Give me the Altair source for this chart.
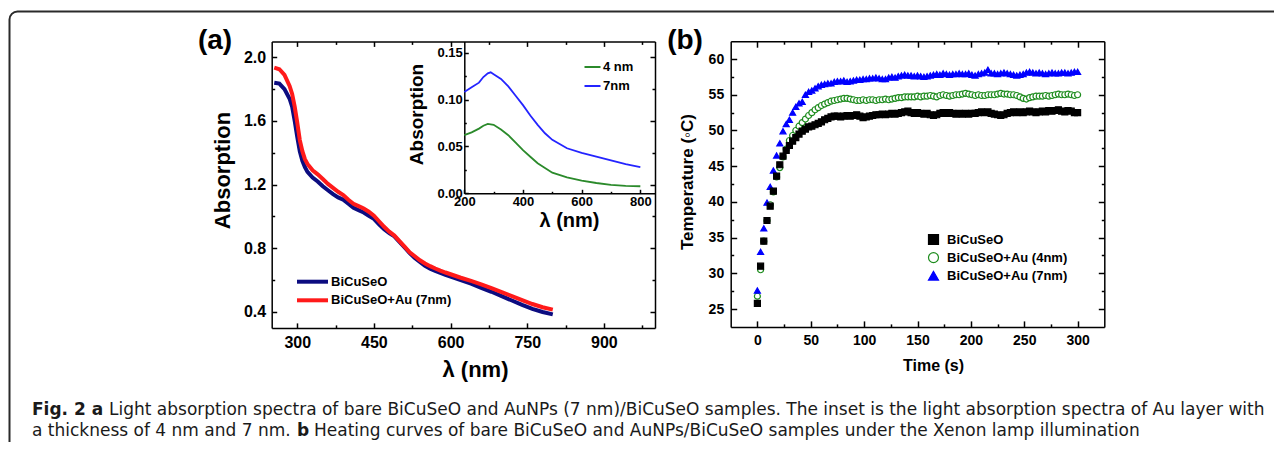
import altair as alt
import pandas as pd

W, H = 1266, 434
FONT = "Liberation Sans"
CAP_FONT = "DejaVu Sans"

# ---------------- data ----------------
# (a) main absorption spectra
wl_a = [255, 265, 275, 285, 290, 295, 300, 305, 310, 315,
        320, 330, 340, 350, 360, 370, 380, 390, 400, 410,
        420, 430, 440, 450, 460, 470, 480, 490, 500, 510,
        520, 530, 540, 550, 560, 570, 580, 590, 600, 620,
        640, 660, 680, 700, 720, 740, 760, 780, 800]
abs_bicuseo = [1.84, 1.835, 1.80, 1.74, 1.69, 1.60, 1.50, 1.41, 1.35, 1.31,
               1.28, 1.245, 1.22, 1.19, 1.165, 1.14, 1.12, 1.105, 1.08, 1.055,
               1.04, 1.025, 1.005, 0.985, 0.95, 0.92, 0.895, 0.875, 0.84, 0.805,
               0.77, 0.74, 0.715, 0.69, 0.672, 0.658, 0.645, 0.634, 0.623, 0.60,
               0.578, 0.552, 0.527, 0.50, 0.472, 0.445, 0.42, 0.40, 0.385]
abs_bicuseo_au7 = [1.935, 1.925, 1.89, 1.82, 1.77, 1.69, 1.59, 1.48, 1.41, 1.36,
                   1.33, 1.29, 1.265, 1.235, 1.205, 1.18, 1.155, 1.135, 1.105, 1.08,
                   1.065, 1.05, 1.03, 1.005, 0.97, 0.935, 0.905, 0.88, 0.845, 0.81,
                   0.775, 0.75, 0.725, 0.705, 0.688, 0.673, 0.66, 0.648, 0.637, 0.615,
                   0.595, 0.573, 0.55, 0.525, 0.50, 0.475, 0.45, 0.43, 0.415]
series_a = ["BiCuSeO", "BiCuSeO+Au (7nm)"]

# (a) inset: Au layers
wl_in = [200, 225, 250, 265, 280, 290, 300, 325, 350, 375, 400,
         425, 450, 475, 500, 550, 600, 650, 700, 750, 800]
abs_4nm = [0.062, 0.065, 0.069, 0.072, 0.074, 0.0735, 0.073, 0.068, 0.062, 0.054, 0.046,
           0.039, 0.032, 0.027, 0.022, 0.017, 0.0135, 0.011, 0.009, 0.008, 0.0075]
abs_7nm = [0.108, 0.113, 0.118, 0.124, 0.128, 0.129, 0.127, 0.122, 0.114, 0.104, 0.094,
           0.083, 0.073, 0.064, 0.057, 0.048, 0.043, 0.039, 0.035, 0.031, 0.028]
series_in = ["4 nm", "7nm"]

# (b) heating curves
time_s = list(range(0, 301, 3))
temp_bicuseo = [25.8, 31.0, 34.5, 37.4, 39.4, 41.5, 43.6, 45.2, 46.4, 47.2,
                47.9, 48.5, 49.0, 49.5, 49.9, 50.2, 50.5, 50.6, 50.8, 51.0,
                51.2, 51.5, 51.7, 51.9, 52.0, 52.0, 51.9, 52.0, 52.1, 52.0,
                52.1, 52.2, 52.0, 51.8, 51.9, 52.0, 52.1, 52.2, 52.2, 52.3,
                52.2, 52.3, 52.4, 52.3, 52.4, 52.5, 52.6, 52.7, 52.5, 52.4,
                52.5, 52.4, 52.3, 52.4, 52.2, 52.1, 52.2, 52.4, 52.5, 52.4,
                52.5, 52.4, 52.3, 52.4, 52.3, 52.4, 52.3, 52.4, 52.4, 52.5,
                52.6, 52.5, 52.6, 52.4, 52.3, 52.2, 52.1, 52.2, 52.4, 52.5,
                52.6, 52.5, 52.6, 52.5, 52.6, 52.7, 52.6, 52.5, 52.6, 52.7,
                52.6, 52.8, 52.7, 52.8, 52.9, 52.7, 52.6, 52.8, 52.7, 52.5,
                52.5]
temp_au4 = [26.8, 30.5, 34.5, 37.4, 39.6, 41.4, 43.5, 44.8, 46.3, 47.4,
            48.6, 49.3, 50.0, 50.6, 51.1, 51.6, 52.1, 52.5, 52.9, 53.2,
            53.5, 53.7, 53.9, 54.1, 54.2, 54.3, 54.4, 54.5, 54.5, 54.4,
            54.3, 54.2, 54.2, 54.3, 54.2, 54.3, 54.3, 54.2, 54.3, 54.3,
            54.4, 54.3, 54.4, 54.5, 54.6, 54.6, 54.7, 54.7, 54.7, 54.7,
            54.8, 54.7, 54.8, 54.8, 54.9, 54.8, 54.7, 54.9, 55.0, 54.9,
            54.8, 54.9, 55.0, 55.0, 55.1, 55.2, 55.1, 55.0, 54.9, 55.0,
            54.9, 54.9, 55.0, 55.0, 55.0, 55.1, 55.2, 55.1, 55.1, 55.0,
            55.0, 54.9, 54.7, 54.5, 54.4, 54.6, 54.7, 54.8, 54.8, 54.8,
            54.9, 54.8, 54.9, 55.0, 55.1, 55.0, 55.0, 55.1, 55.0, 54.9,
            55.0]
temp_au7 = [27.6, 33.0, 36.3, 39.9, 42.1, 44.4, 46.5, 48.2, 49.9, 50.9,
            51.5, 52.5, 53.3, 53.8, 54.0, 55.0, 55.4, 55.6, 55.9, 56.2,
            56.4, 56.5, 56.6, 56.6, 56.8, 56.9, 56.9, 57.0, 56.8, 56.9,
            57.0, 57.1, 57.1, 57.2, 57.2, 57.3, 57.3, 57.4, 57.3, 57.2,
            57.2, 57.4, 57.5, 57.4, 57.6, 57.7, 57.8, 57.7, 57.7, 57.6,
            57.7, 57.6, 57.5, 57.6, 57.7, 57.8, 57.9, 57.8, 58.0, 57.9,
            57.8, 57.9, 57.9, 58.0, 57.9, 57.9, 58.0, 57.8, 57.7, 57.9,
            58.0, 58.1, 58.5, 58.0, 58.0, 57.9, 58.0, 58.1, 58.0, 57.9,
            57.8, 57.7, 57.8, 57.9, 58.1, 58.2, 58.1, 58.0, 58.1, 58.0,
            57.9, 58.0, 58.1, 58.0, 58.0, 58.1, 58.1, 58.0, 58.1, 58.2,
            58.2]
series_b = ["BiCuSeO", "BiCuSeO+Au (4nm)", "BiCuSeO+Au (7nm)"]

caption_1_bold = "Fig. 2 a"
caption_1 = ("Light absorption spectra of bare BiCuSeO and AuNPs (7 nm)/BiCuSeO samples. "
             "The inset is the light absorption spectra of Au layer with")
caption_2 = "a thickness of 4 nm and 7 nm."
caption_2_bold = "b"
caption_2b = "Heating curves of bare BiCuSeO and AuNPs/BiCuSeO samples under the Xenon lamp illumination"

# ---------------- layout (canvas pixels) ----------------
A_X, A_Y = [263.7, 647.0], [319.9, 33.4]
IN_X, IN_Y = [456.3, 647.0], [185.3, 33.4]
B_X, B_Y = [722.7, 1096.3], [318.9, 33.2]

col_a = ["#0c0c80", "#ff1a1a"]
col_in = ["#2b8a2b", "#2424ff"]
stroke_b = ["#000000", "#1d8c1d", "#0000ff"]
fill_b = ["#000000", "#ffffff", "#0000ff"]
shape_b = ["square", "circle", "triangle-up"]
CAP_SIZE = 17


def sc(domain, rng):
    return alt.Scale(domain=domain, range=rng, nice=False, zero=False)


def label_axis(orient, line, values, fmt, lsize, pad, title, tsize, tx, ty):
    off = (line - H) if orient == "bottom" else -line
    return alt.Axis(orient=orient, offset=off, values=values, format=fmt,
                    ticks=False, tickSize=0, domain=True, domainColor="black",
                    domainWidth=1.5, grid=False, labelFont=FONT, labelFontSize=lsize,
                    labelFontWeight="bold", labelColor="black", labelPadding=pad,
                    labelFlush=False, labelOverlap=False, labelBound=False,
                    title=title, titleFont=FONT, titleFontSize=tsize,
                    titleFontWeight="bold", titleColor="black", titleX=tx, titleY=ty,
                    titleAlign="center", titleBaseline="middle",
                    titleAngle=0 if orient == "bottom" else 270)


def tick_axis(orient, line, values, test, major, minor, domain):
    off = {"bottom": line - H, "top": -line, "left": -line, "right": line - W}[orient]
    return alt.Axis(orient=orient, offset=off, values=values, labels=False, ticks=True,
                    tickSize={"condition": {"test": test, "value": major}, "value": minor},
                    tickColor="black", tickWidth=1.5, domain=domain, domainColor="black",
                    domainWidth=1.5, grid=False, title=None)


# ---------------- panel (a) ----------------
n = len(wl_a)
df_a = pd.DataFrame({"wl": wl_a * 2,
                     "val": abs_bicuseo + abs_bicuseo_au7,
                     "s": [series_a[0]] * n + [series_a[1]] * n})
ax_dom, ay_dom = [250, 1000], [0.3, 2.1]
ax_vals = [300, 375, 450, 525, 600, 675, 750, 825, 900, 975]
ay_vals = [0.4, 0.6, 0.8, 1.0, 1.2, 1.4, 1.6, 1.8, 2.0]
ax_test = "datum.value % 150 === 0"
ay_test = "abs(datum.value*2.5 - round(datum.value*2.5)) < 0.001"

a_lines = alt.Chart(df_a).mark_line(strokeWidth=4).encode(
    x=alt.X("wl:Q", scale=sc(ax_dom, A_X),
            axis=label_axis("bottom", A_Y[0], [300, 450, 600, 750, 900], "d", 16, 7,
                            "λ (nm)", 22, 467, 42)),
    y=alt.Y("val:Q", scale=sc(ay_dom, A_Y),
            axis=label_axis("left", A_X[0], [0.4, 0.8, 1.2, 1.6, 2.0], ".1f", 16, 6,
                            "Absorption", 22, -49.7, 162)),
    color=alt.Color("s:N", scale=alt.Scale(domain=series_a, range=col_a),
                    legend=alt.Legend(orient="none", legendX=308, legendY=266.7, title=None,
                                      symbolType="M-5.2,0H1", symbolSize=100,
                                      symbolStrokeWidth=4, labelFont=FONT, labelFontSize=13,
                                      labelFontWeight="bold", labelColor="black",
                                      labelOffset=1, rowPadding=2.6, padding=0)),
)
a_t1 = alt.Chart(df_a).mark_point(opacity=0).encode(
    x=alt.X("wl:Q", scale=sc(ax_dom, A_X),
            axis=tick_axis("top", A_Y[0], ax_vals, ax_test, 5, 3, False)),
    y=alt.Y("val:Q", scale=sc(ay_dom, A_Y),
            axis=tick_axis("right", A_X[0], ay_vals, ay_test, 5, 3, False)),
)
a_t2 = alt.Chart(df_a).mark_point(opacity=0).encode(
    x=alt.X("wl:Q", scale=sc(ax_dom, A_X),
            axis=tick_axis("bottom", A_Y[1], ax_vals, ax_test, 5, 3, True)),
    y=alt.Y("val:Q", scale=sc(ay_dom, A_Y),
            axis=tick_axis("left", A_X[1], ay_vals, ay_test, 5, 3, True)),
)

# ---------------- inset ----------------
m = len(wl_in)
df_in = pd.DataFrame({"wl": wl_in * 2,
                      "val": abs_4nm + abs_7nm,
                      "s": [series_in[0]] * m + [series_in[1]] * m})
ix_dom, iy_dom = [200, 850], [0, 0.162]
ix_vals = [200, 300, 400, 500, 600, 700, 800]
iy_vals = [0, 0.025, 0.05, 0.075, 0.1, 0.125, 0.15]
ix_test = "datum.value % 200 === 0"
iy_test = "abs(datum.value*20 - round(datum.value*20)) < 0.001"

in_lines = alt.Chart(df_in).mark_line(strokeWidth=1.8).encode(
    x=alt.X("wl:Q", scale=sc(ix_dom, IN_X),
            axis=label_axis("bottom", IN_Y[0], [200, 400, 600, 800], "d", 13, 2,
                            "λ (nm)", 20, 561, 26.7)),
    y=alt.Y("val:Q", scale=sc(iy_dom, IN_Y),
            axis=label_axis("left", IN_X[0], [0, 0.05, 0.1, 0.15], ".2f", 13, 2,
                            "Absorption", 19, -47.6, 106)),
    color=alt.Color("s:N", scale=alt.Scale(domain=series_in, range=col_in),
                    legend=alt.Legend(orient="none", legendX=582, legendY=52.5, title=None,
                                      symbolType="M-3,0H1", symbolSize=64,
                                      symbolStrokeWidth=2, labelFont=FONT, labelFontSize=13,
                                      labelFontWeight="bold", labelColor="black",
                                      labelOffset=0, rowPadding=5, padding=0)),
)
in_t1 = alt.Chart(df_in).mark_point(opacity=0).encode(
    x=alt.X("wl:Q", scale=sc(ix_dom, IN_X),
            axis=tick_axis("top", IN_Y[0], ix_vals, ix_test, 4, 2, False)),
    y=alt.Y("val:Q", scale=sc(iy_dom, IN_Y),
            axis=tick_axis("right", IN_X[0], iy_vals, iy_test, 4, 2, False)),
)

# ---------------- panel (b) ----------------
k = len(time_s)
df_b = pd.DataFrame({"t": time_s * 3,
                     "T": temp_au4 + temp_au7 + temp_bicuseo,
                     "s": [series_b[1]] * k + [series_b[2]] * k + [series_b[0]] * k})
bx_dom, by_dom = [-25, 325], [22.5, 62.5]
bx_vals = list(range(0, 301, 25))
by_vals = [25, 27.5, 30, 32.5, 35, 37.5, 40, 42.5, 45, 47.5, 50, 52.5, 55, 57.5, 60]
bx_test = "datum.value % 50 === 0"
by_test = "datum.value % 5 === 0"
leg_b = alt.Legend(orient="none", legendX=919, legendY=225, title=None,
                   labelFont=FONT, labelFontSize=13, labelFontWeight="bold",
                   labelColor="black", labelOffset=7, rowPadding=3.1, padding=0,
                   symbolStrokeWidth=1.2)

b_pts = alt.Chart(df_b).mark_point(filled=True, size=36, strokeWidth=1.2, opacity=1).encode(
    x=alt.X("t:Q", scale=sc(bx_dom, B_X),
            axis=label_axis("bottom", B_Y[0], [0, 50, 100, 150, 200, 250, 300], "d", 14, 7,
                            "Time (s)", 16, 925, 38.6)),
    y=alt.Y("T:Q", scale=sc(by_dom, B_Y),
            axis=label_axis("left", B_X[0], [25, 30, 35, 40, 45, 50, 55, 60], "d", 14, 7,
                            "Temperature (\u25e6C)", 17, -43.7, 173.5)),
    shape=alt.Shape("s:N", scale=alt.Scale(domain=series_b, range=shape_b), legend=leg_b),
    fill=alt.Fill("s:N", scale=alt.Scale(domain=series_b, range=fill_b), legend=leg_b),
    stroke=alt.Stroke("s:N", scale=alt.Scale(domain=series_b, range=stroke_b), legend=leg_b),
)
b_t1 = alt.Chart(df_b).mark_point(opacity=0).encode(
    x=alt.X("t:Q", scale=sc(bx_dom, B_X),
            axis=tick_axis("top", B_Y[0], bx_vals, bx_test, 6, 3, False)),
    y=alt.Y("T:Q", scale=sc(by_dom, B_Y),
            axis=tick_axis("right", B_X[0], by_vals, by_test, 6, 3, False)),
)
b_t2 = alt.Chart(df_b).mark_point(opacity=0).encode(
    x=alt.X("t:Q", scale=sc(bx_dom, B_X),
            axis=tick_axis("bottom", B_Y[1], bx_vals, bx_test, 6, 3, True)),
    y=alt.Y("T:Q", scale=sc(by_dom, B_Y),
            axis=tick_axis("left", B_X[1], by_vals, by_test, 6, 3, True)),
)

# ---------------- decorations ----------------
one = pd.DataFrame({"v": [0]})
frame = alt.Chart(one).mark_rect(fill="white", fillOpacity=0, stroke="#2a2a2a",
                                  strokeWidth=2, cornerRadius=8).encode(
    x=alt.value(1.5), y=alt.value(3.5), x2=alt.value(W + 40), y2=alt.value(H + 40))


def text(s, x, y, font, size, weight="normal", align="left", color="black"):
    return alt.Chart(pd.DataFrame({"s": [s]})).mark_text(
        font=font, fontSize=size, fontWeight=weight, align=align,
        baseline="alphabetic", color=color).encode(
        text="s:N", x=alt.value(x), y=alt.value(y))


lbl_a = text("(a)", 207, 41, FONT, 28, "bold", "center")
lbl_b = text("(b)", 677, 41, FONT, 28, "bold", "center")
cap1a = text(caption_1_bold, 24, 407, CAP_FONT, CAP_SIZE, "bold", color="#1a1a1a")
cap1b = text(caption_1, 101, 407, CAP_FONT, CAP_SIZE, color="#1a1a1a")
cap2a = text(caption_2, 24, 428, CAP_FONT, CAP_SIZE, color="#1a1a1a")
cap2b = text(caption_2_bold, 289, 428, CAP_FONT, CAP_SIZE, "bold", color="#1a1a1a")
cap2c = text(caption_2b, 306, 428, CAP_FONT, CAP_SIZE, color="#1a1a1a")

chart = alt.layer(
    frame, a_t1, a_t2, a_lines, in_t1, in_lines, b_t1, b_t2, b_pts,
    lbl_a, lbl_b, cap1a, cap1b, cap2a, cap2b, cap2c,
).resolve_scale(
    x="independent", y="independent", color="independent",
    shape="independent", fill="independent", stroke="independent",
).resolve_axis(x="independent", y="independent").properties(
    width=W, height=H, autosize=alt.AutoSizeParams(type="none"), padding=0,
).configure_view(strokeWidth=0)

chart.save("out.html", embed_options={"renderer": "svg", "actions": False})
